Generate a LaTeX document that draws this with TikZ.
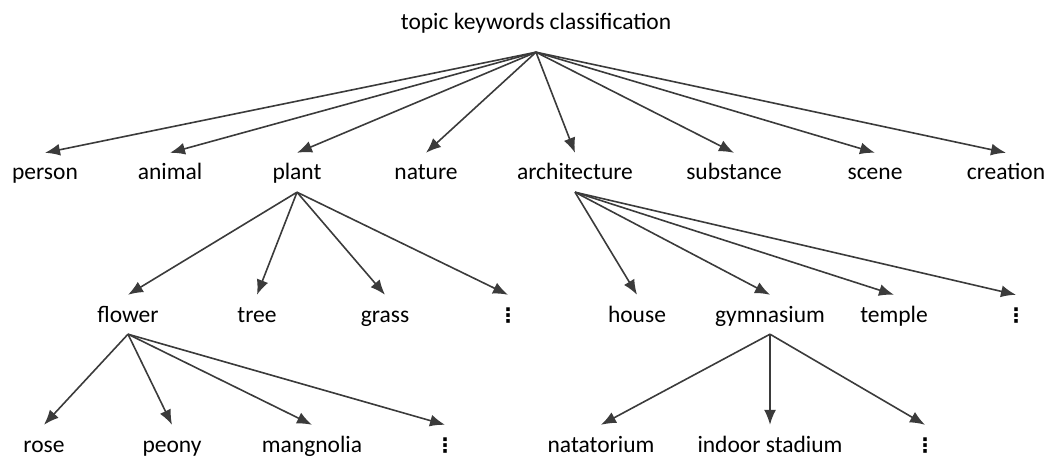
\documentclass[tikz,border=0pt]{standalone}
\usepackage{fontspec}
\setmainfont{Carlito}
\newfontfamily\dotsfont{DejaVu Sans}
\usetikzlibrary{arrows.meta,positioning}

\newcommand{\moredots}{{\dotsfont\bfseries\fontsize{20}{24}\selectfont ⋮}}

\tikzset{
  kw/.style={anchor=base, inner xsep=0pt, inner ysep=10pt,
             text height=17pt, text depth=2pt,
             font=\fontsize{23.5}{28}\selectfont},
  link/.style={->, draw=black!77, line width=1.6pt},
}

\begin{document}
\begin{tikzpicture}[x=1pt, y=-1pt, >={Latex[length=15pt,width=12pt]}]
  \useasboundingbox (0,0) rectangle (1049,457);

  \node[kw, inner ysep=20pt](root) at (536,30) {topic keywords classification};

  % first level
  \node[kw](person)   at (45,180)  {person};
  \node[kw](animal)   at (170,180) {animal};
  \node[kw](plant)    at (297,180) {plant};
  \node[kw](nature)   at (426,180) {nature};
  \node[kw](arch)     at (575,180) {architecture};
  \node[kw](subst)    at (734,180) {substance};
  \node[kw](scene)    at (875,180) {scene};
  \node[kw](creation) at (1006,180) {creation};

  \foreach \n in {person,animal,plant,nature,arch,subst,scene,creation}
    \draw[link] (root.south) -- (\n.north);

  % plants
  \node[kw](flower)     at (128,322) {flower};
  \node[kw](tree)       at (257,322) {tree};
  \node[kw](grass)      at (385,322) {grass};
  \node[kw](plant-more) at (508,322) {\moredots};

  \foreach \n in {flower,tree,grass,plant-more}
    \draw[link] (plant.south) -- (\n.north);

  % buildings
  \node[kw](house)     at (637,322) {house};
  \node[kw](gym)       at (770,322) {gymnasium};
  \node[kw](temple)    at (894,322) {temple};
  \node[kw](arch-more) at (1016,322) {\moredots};

  \foreach \n in {house,gym,temple,arch-more}
    \draw[link] (arch.south) -- (\n.north);

  % flowers
  \node[kw](rose)        at (44,452)  {rose};
  \node[kw](peony)       at (172,452) {peony};
  \node[kw](magnolia)    at (312,452) {mangnolia};
  \node[kw](flower-more) at (445,452) {\moredots};

  \foreach \n in {rose,peony,magnolia,flower-more}
    \draw[link] (flower.south) -- (\n.north);

  % sports halls
  \node[kw](nata)     at (601,452) {natatorium};
  \node[kw](stadium)  at (770,452) {indoor stadium};
  \node[kw](gym-more) at (925,452) {\moredots};

  \foreach \n in {nata,stadium,gym-more}
    \draw[link] (gym.south) -- (\n.north);

\end{tikzpicture}
\end{document}
